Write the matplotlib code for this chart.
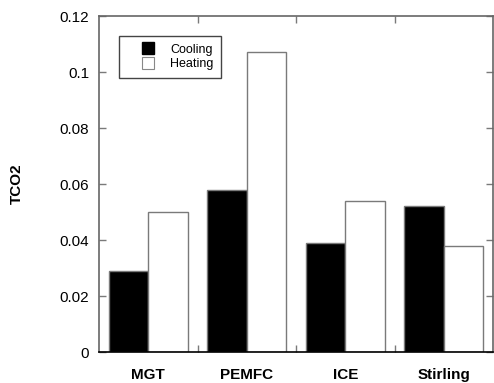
import matplotlib
matplotlib.use("Agg")
import matplotlib.pyplot as plt
from matplotlib.lines import Line2D
import numpy as np

categories = ["MGT", "PEMFC", "ICE", "Stirling"]
cooling = [0.029, 0.058, 0.039, 0.052]
heating = [0.050, 0.107, 0.054, 0.038]
series_names = ["Cooling", "Heating"]
yticks = [0, 0.02, 0.04, 0.06, 0.08, 0.1, 0.12]
ytick_labels = ["0", "0.02", "0.04", "0.06", "0.08", "0.1", "0.12"]

plt.rcParams['font.family'] = ['Liberation Sans', 'DejaVu Sans']

fig = plt.figure(figsize=(4.94, 3.83), dpi=100)
ax = fig.add_axes([99/494, 1 - 352/383, 394/494, 336/383])

x = np.arange(len(categories)) + 0.5
w = 0.4
edge = "#7a7a7a"
ax.bar(x - w, cooling, width=w, align='edge', color='black', edgecolor=edge, linewidth=1)
ax.bar(x, heating, width=w, align='edge', color='white', edgecolor=edge, linewidth=1)

ax.set_xlim(0, len(categories))
ax.set_ylim(0, 0.12)

ax.set_yticks(yticks)
ax.set_yticklabels(ytick_labels)
ax.tick_params(axis='y', which='major', direction='in', length=5, width=1, color=edge,
               labelsize=11, pad=7, right=True, labelright=False)

ax.set_xticks(np.arange(1, len(categories)))
ax.set_xticklabels([])
ax.tick_params(axis='x', which='major', direction='in', length=5, width=1, color=edge,
               top=True, bottom=True)
ax.set_xticks(x, minor=True)
ax.set_xticklabels(categories, minor=True, fontweight='bold', fontsize=11)
ax.tick_params(axis='x', which='minor', length=0, pad=11.5)

for s in ['top', 'left', 'right']:
    ax.spines[s].set_color('#666666')
    ax.spines[s].set_linewidth(1.2)
ax.spines['bottom'].set_color('black')
ax.spines['bottom'].set_linewidth(1.2)

ax.set_ylabel("TCO2", fontweight='bold', fontsize=11)
ax.yaxis.set_label_coords(-0.19, 0.5)

handles = [
    Line2D([], [], marker='s', linestyle='none', markersize=8,
           markerfacecolor='black', markeredgecolor='black'),
    Line2D([], [], marker='s', linestyle='none', markersize=8,
           markerfacecolor='white', markeredgecolor='#888888', markeredgewidth=0.8),
]
leg = ax.legend(handles, series_names, loc='upper left',
                bbox_to_anchor=((119 - 99) / 394, (352 - 36) / 336),
                borderaxespad=0, fontsize=9, fancybox=False, framealpha=1,
                edgecolor='#444444', handlelength=3.4, handletextpad=0.1,
                labelspacing=0.2, borderpad=0.6)
leg.get_frame().set_linewidth(1.0)

fig.savefig("out.png", dpi=100)
